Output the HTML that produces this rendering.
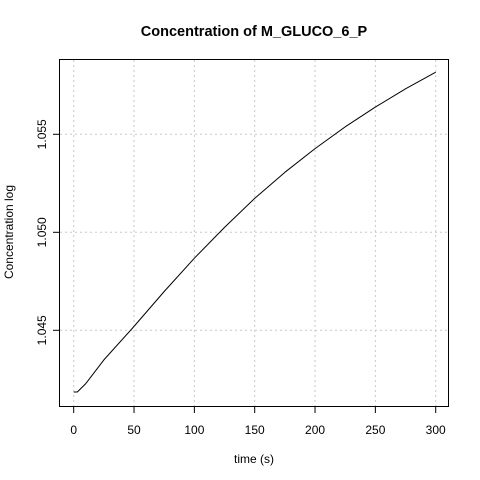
<!DOCTYPE html>
<html><head><meta charset="utf-8"><style>
body{margin:0;background:#fff}
svg{display:block;font-family:"Liberation Sans",Arial,sans-serif}
</style></head><body>
<svg id="chart" width="480" height="480">
<rect width="480" height="480" fill="#fff"/>
<text x="254" y="36" text-anchor="middle" font-size="14.5" font-weight="bold">Concentration of M_GLUCO_6_P</text>
<text x="254" y="463" text-anchor="middle" font-size="12">time (s)</text>
<text transform="translate(13,232) rotate(-90)" text-anchor="middle" font-size="12">Concentration log</text>
<g id="grid"></g><g id="axes"></g><g id="series"></g>
<rect x="59.5" y="59.5" width="389" height="347" fill="none" stroke="#000"/>
</svg>
<script>
const times=[0,3,10,25,50,75,100,125,150,175,200,225,250,275,300];
const conc=[1.04185,1.04185,1.04228,1.04349,1.04520,1.04698,1.04868,1.05025,1.05173,1.05306,1.05427,1.05538,1.05639,1.05732,1.05817];
const xTicks=[0,50,100,150,200,250,300];
const yTicks=[1.045,1.050,1.055];
const yTickLabels=["1.045","1.050","1.055"];
const NS="http://www.w3.org/2000/svg";
function xs(t){return 73.7+t*(435.7-73.7)/300;}
function ys(v){return 232.3-(v-1.050)*(232.3-134.3)/0.005;}
function mk(tag,attrs,parent){const e=document.createElementNS(NS,tag);for(const k in attrs)e.setAttribute(k,attrs[k]);document.getElementById(parent).appendChild(e);return e;}
xTicks.forEach(t=>{
  const g=mk('line',{x1:xs(t),x2:xs(t),y1:60,y2:406,stroke:'#c8c8c8','stroke-dasharray':'2,3'},'grid');
  
  
  const tk=mk('line',{x1:xs(t),x2:xs(t),y1:407,y2:413,stroke:'#000'},'axes');
  
  
  const l=mk('text',{x:xs(t),y:434,'text-anchor':'middle','font-size':12},'axes');
  l.textContent=t;
  
  
});
yTicks.forEach((v,i)=>{
  const g=mk('line',{x1:60,x2:448,y1:ys(v),y2:ys(v),stroke:'#c8c8c8','stroke-dasharray':'2,3'},'grid');
  
  
  const tk=mk('line',{x1:53,x2:59,y1:ys(v),y2:ys(v),stroke:'#000'},'axes');
  
  
  const l=mk('text',{transform:`translate(46,${ys(v)}) rotate(-90)`,'text-anchor':'middle','font-size':12},'axes');
  l.textContent=yTickLabels[i];
  
  
});
const p=mk('polyline',{points:times.map((t,i)=>xs(t)+','+ys(conc[i])).join(' '),fill:'none',stroke:'#000','stroke-width':1,'stroke-linejoin':'round'},'series');


</script>
</body></html>
